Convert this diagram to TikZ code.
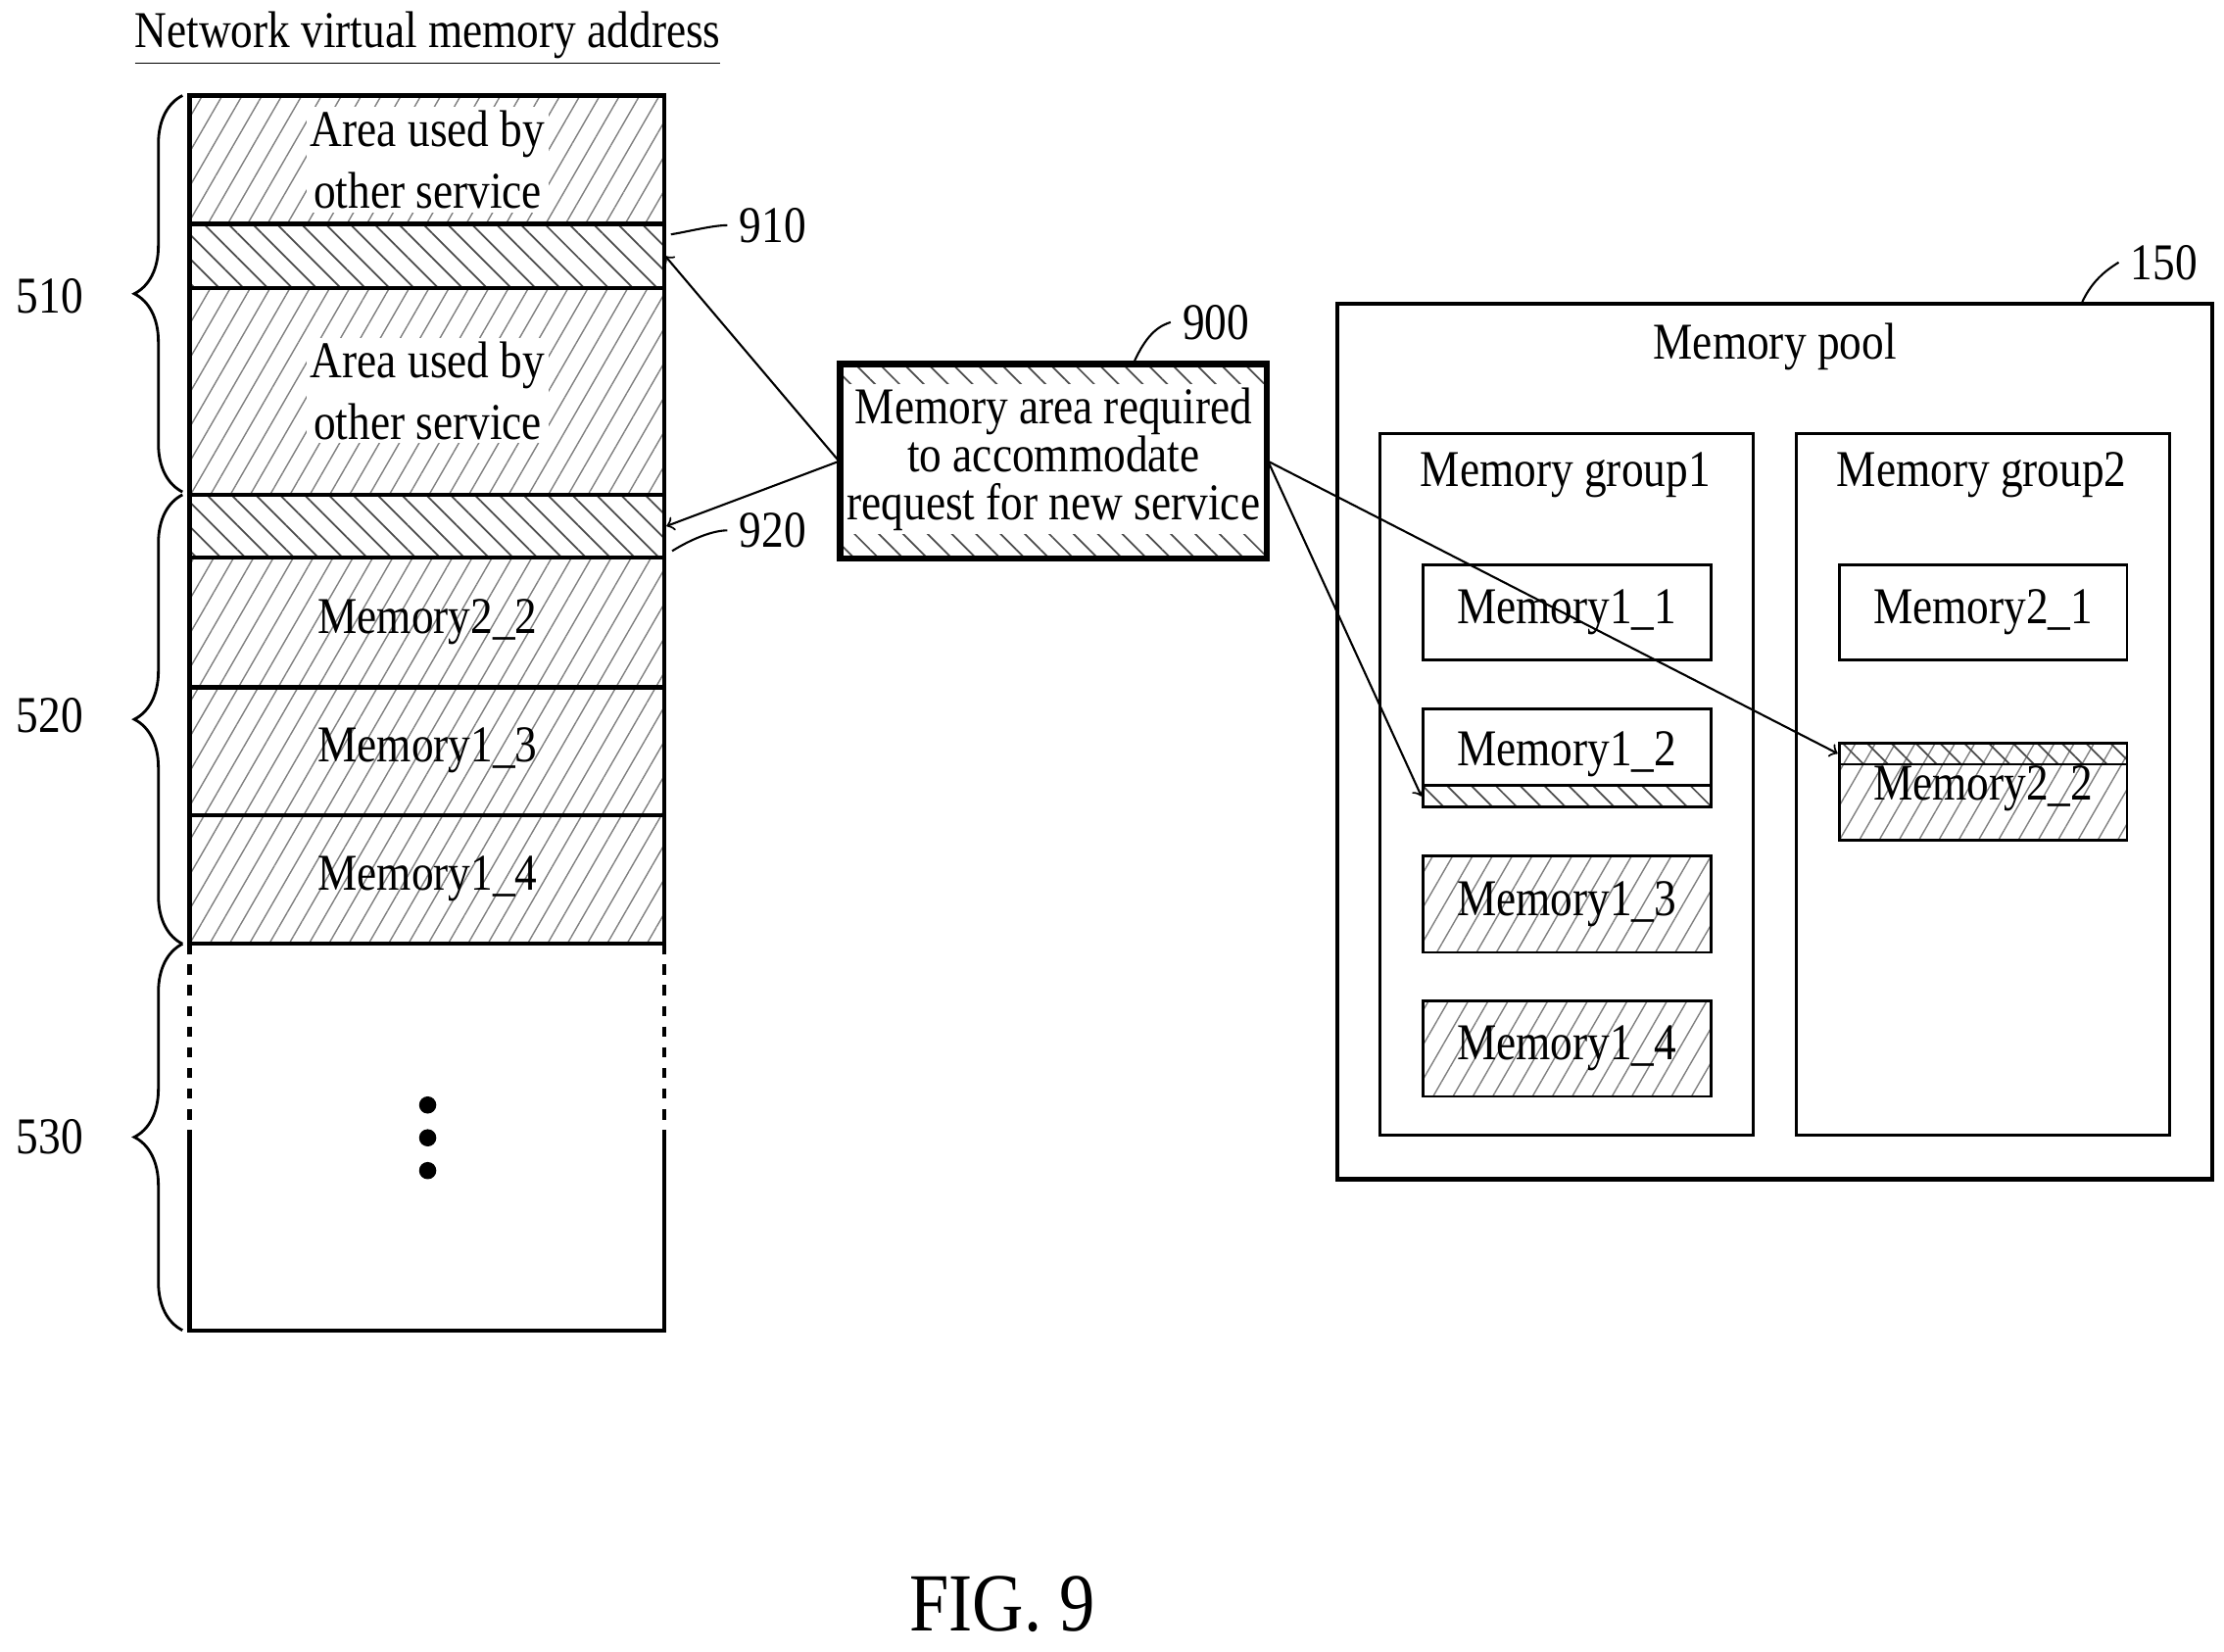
\documentclass[tikz,border=0pt]{standalone}
\usepackage{fontspec}
\setmainfont{Liberation Serif}[FakeStretch=0.86]
\usetikzlibrary{patterns.meta,fit,decorations.pathreplacing}
\tikzset{
  lbl/.style={font=\fontsize{15}{18}\selectfont},
  box/.style={draw, line width=1.2pt, inner sep=0pt},
  thin box/.style={draw, line width=0.8pt, inner sep=0pt},
  used/.style={pattern={Lines[angle=60,distance=5pt,line width=0.4pt]}, pattern color=gray},
  req/.style={pattern={Lines[angle=-45,distance=5pt,line width=0.5pt]}, pattern color=black!70},
  brc/.style={decorate, decoration={brace, amplitude=14pt}, line width=0.8pt},
  lead/.style={line width=0.6pt},
}
\begin{document}
\begin{tikzpicture}[x=0.01455cm, y=-0.01455cm]
    \useasboundingbox (0,0) rectangle (1560,1158);

    % title
    \node[lbl] (title) at (300,27) {\underline{Network virtual memory address}};

    % the address column
    \node[box, used, fit={(133,67)(466,157)}] (a1) {};
    \node[box, req, fit={(133,157)(466,202)}] (b910) {};
    \node[box, used, fit={(133,202)(466,347)}] (a2) {};
    \node[box, req, fit={(133,347)(466,391)}] (b920) {};
    \node[box, used, fit={(133,391)(466,482)}] (m22) {};
    \node[box, used, fit={(133,482)(466,572)}] (m13) {};
    \node[box, used, fit={(133,572)(466,662)}] (m14) {};
    \node[lbl, fill=white, inner sep=1pt, align=center] (t1) at (300,112) {Area used by\\other service};
    \node[lbl, fill=white, inner sep=1pt, align=center] (t2) at (300,274) {Area used by\\other service};
    \node[lbl] (t22) at (300,436) {Memory2\_2};
    \node[lbl] (t13) at (300,526) {Memory1\_3};
    \node[lbl] (t14) at (300,616) {Memory1\_4};
    % the free part
    \draw[line width=1.2pt, dashed] (133,662) -- (133,795) (466,662) -- (466,795);
    \draw[line width=1.2pt] (133,795) -- (133,933) -- (466,933) -- (466,795);
    \foreach \y in {775,798,821} \fill (300,\y) circle (2.5pt);

    % braces
    \draw[brc] (128,345) -- (128,67);
    \draw[brc] (128,662) -- (128,347);
    \draw[brc] (128,933) -- (128,662);
    \node[lbl] (l510) at (35,208) {510};
    \node[lbl] (l520) at (35,502) {520};
    \node[lbl] (l530) at (35,797) {530};

    % request box
    \node[box, req, fit={(590,256)(888,391)}] (req) {};
    \node[lbl, fill=white, inner sep=1pt, align=center] (treq) at (739,322)
      {Memory area required\\[-4pt]to accommodate\\[-4pt]request for new service};
    \draw[line width=1.2pt] (req.north west) rectangle (req.south east);
    \node[lbl] (l900) at (853,226) {900};
    \draw[lead] (795,255) .. controls (805,232) and (815,228) .. (l900.west);
    \node[lbl] (l910) at (542,158) {910};
    \draw[lead] (b910.north east) ++(4,8) .. controls (485,162) and (500,158) .. (l910.west);
    \node[lbl] (l920) at (542,372) {920};
    \draw[lead] (b920.south east) ++(4,-6) .. controls (485,378) and (500,372) .. (l920.west);

    % memory pool
    \node[box, fit={(938,213)(1552,827)}] (pool) {};
    \node[lbl] (tpool) at (1245,243) {Memory pool};
    \node[lbl] (l150) at (1518,184) {150};
    \draw[lead] (1460,213) .. controls (1468,195) and (1480,188) .. (l150.west);
    \node[thin box, fit={(968,304)(1230,796)}] (g1) {};
    \node[thin box, fit={(1260,304)(1522,796)}] (g2) {};
    \node[lbl] (tg1) at (1098,333) {Memory group1};
    \node[lbl] (tg2) at (1390,333) {Memory group2};

    \node[thin box, fit={(998,396)(1200,463)}] (p11) {};
    \node[thin box, fit={(998,497)(1200,566)}] (p12) {};
    \node[thin box, req, fit={(998,551)(1200,566)}] (s12) {};
    \node[thin box, used, fit={(998,600)(1200,668)}] (p13) {};
    \node[thin box, used, fit={(998,702)(1200,769)}] (p14) {};
    \node[thin box, fit={(1290,396)(1492,463)}] (p21) {};
    \node[thin box, used, fit={(1290,521)(1492,589)}] (p22) {};
    \node[thin box, req, fit={(1290,521)(1492,536)}] (s22) {};
    \node[lbl] at (p11) {Memory1\_1};
    \node[lbl] at (1099,529) {Memory1\_2};
    \node[lbl] at (p13) {Memory1\_3};
    \node[lbl] at (p14) {Memory1\_4};
    \node[lbl] at (p21) {Memory2\_1};
    \node[lbl] at (1391,553) {Memory2\_2};

    % the arrows
    \draw[->, line width=0.6pt] (req.west) -- (b910.east);
    \draw[->, line width=0.6pt] (req.west) -- (b920.east);
    \draw[->, line width=0.6pt] (req.east) -- (s12.west);
    \draw[->, line width=0.6pt] (req.east) -- (s22.west);

    \node[font=\fontsize{24}{28}\selectfont] (fig) at (703,1125) {FIG. 9};
\end{tikzpicture}
\end{document}
